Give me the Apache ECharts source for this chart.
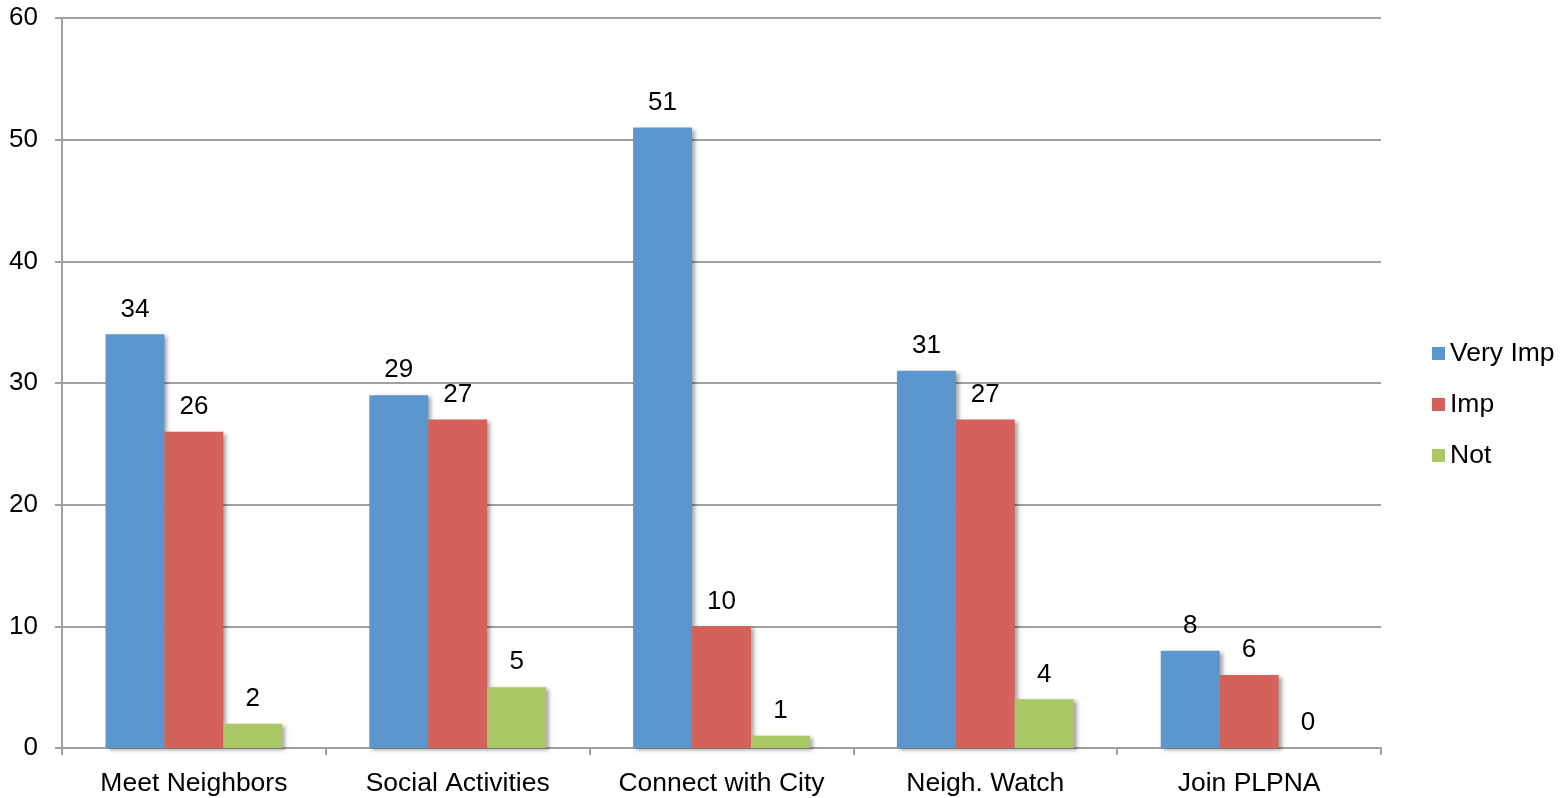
<!DOCTYPE html>
<html><head><meta charset="utf-8">
<script src="https://cdn.jsdelivr.net/npm/echarts@6/dist/echarts.min.js"></script>
<style>html,body{margin:0;padding:0;background:#fff}#c{width:1561px;height:798px}</style>
</head><body><div id="c"></div>
<script>
const categories = ['Meet Neighbors','Social Activities','Connect with City','Neigh. Watch','Join PLPNA'];
const veryImp = [34,29,51,31,8];
const imp = [26,27,10,27,6];
const notImp = [2,5,1,4,0];
const seriesNames = ['Very Imp','Imp','Not'];
const colors = ['#5B97CD','#D4625B','#ABC866'];
const font = '"Liberation Sans", Arial, sans-serif';
const chart = echarts.init(document.getElementById('c'));
function mk(name, data, color){
  return {name, type:'bar', data, barGap:'0%', barCategoryGap:'33%',
    itemStyle:{color, shadowColor:'rgba(0,0,0,0.35)', shadowBlur:4, shadowOffsetX:3, shadowOffsetY:2},
    label:{show:true, position:'top', distance:12, color:'#000', fontSize:26, fontFamily:font}};
}
chart.setOption({
  animation:false,
  textStyle:{fontFamily:font},
  grid:{left:62, right:180, top:18, bottom:50},
  legend:{orient:'vertical', left:1427, top:335, itemWidth:13, itemHeight:13, itemGap:24,
    icon:'rect', textStyle:{fontSize:26.5, color:'#000', fontFamily:font, padding:[0,0,0,0]}, data:seriesNames},
  xAxis:{type:'category', data:categories,
    axisLine:{lineStyle:{color:'#A0A0A0', width:2}},
    axisTick:{show:true, interval:0, length:7, lineStyle:{color:'#A0A0A0', width:2}},
    axisLabel:{interval:0, color:'#000', fontSize:26.5, fontFamily:font, margin:22}},
  yAxis:{type:'value', min:0, max:60, interval:10,
    axisLine:{show:true, lineStyle:{color:'#A0A0A0', width:2}},
    axisTick:{show:true, length:7, lineStyle:{color:'#A0A0A0', width:2}},
    splitLine:{lineStyle:{color:'#A0A0A0', width:2}},
    axisLabel:{color:'#000', fontSize:26, fontFamily:font, margin:24}},
  series:[mk(seriesNames[0], veryImp, colors[0]), mk(seriesNames[1], imp, colors[1]), mk(seriesNames[2], notImp, colors[2])]
});
</script></body></html>
